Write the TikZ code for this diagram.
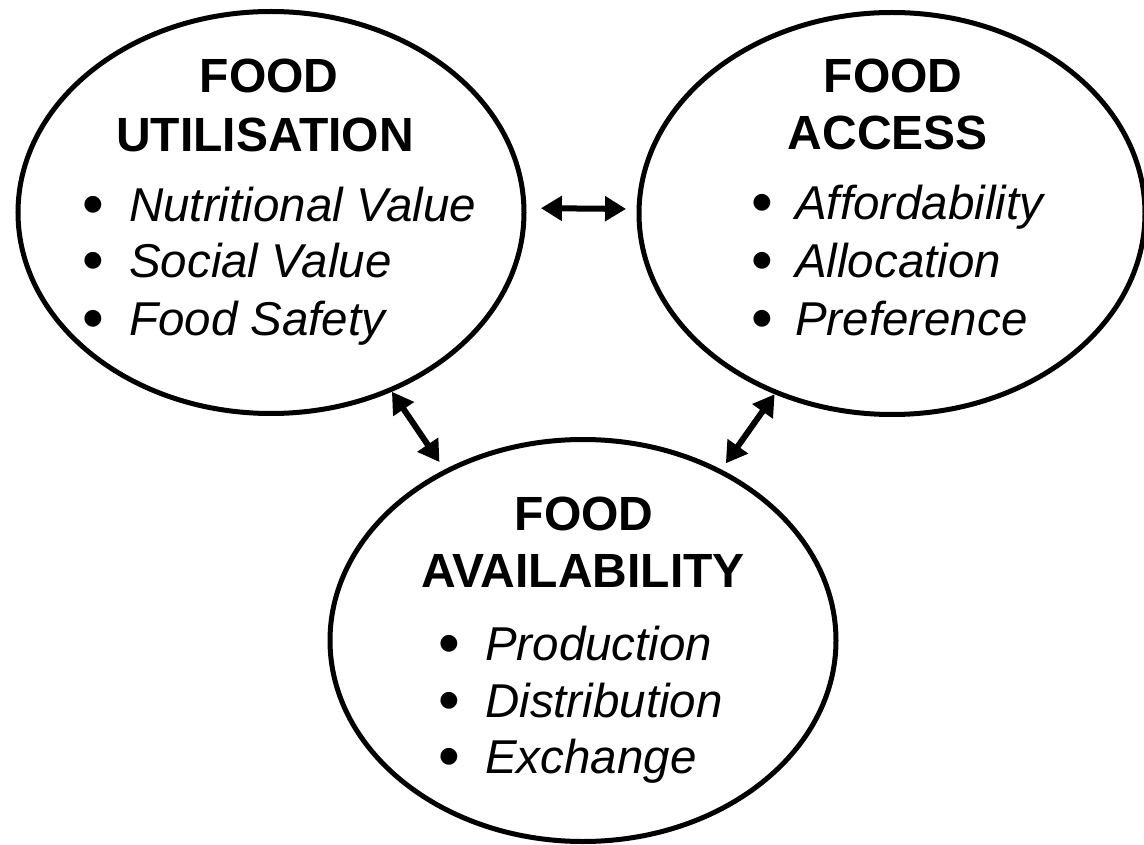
\documentclass[tikz,border=0pt]{standalone}
\usepackage{fontspec}
\setmainfont{Liberation Sans}
\newfontfamily\symfont{DejaVu Sans}
\usetikzlibrary{shapes.geometric,arrows.meta}
\tikzset{
  circ/.style={ellipse, draw=black, line width=5pt, minimum width=506pt, minimum height=402pt, inner sep=0pt},
  ttl/.style={anchor=base, inner sep=0pt, font=\bfseries\fontsize{48}{58}\selectfont},
  itm/.style={anchor=base west, inner sep=0pt, font=\itshape\fontsize{47.5}{57}\selectfont},
  bul/.style={anchor=base, inner sep=0pt, yshift=11pt, font=\symfont\fontsize{22}{26}\selectfont},
  link/.style={line width=6pt, {Triangle[length=21pt,width=24pt]}-{Triangle[length=21pt,width=24pt]}}
}
\begin{document}
\begin{tikzpicture}[x=1pt,y=-1pt]
\useasboundingbox (0,0) rectangle (1144,845);
% ellipses
\node[circ] (U) at (271,212.5) {};
\node[circ] (A) at (892,213.5) {};
\node[circ] (B) at (583,640.5) {};
% Food utilisation
\node[ttl] (U1) at (269,93) {FOOD};
\node[ttl] (U2) at (265,152) {UTILISATION};
\node[bul] (Ub1) at (93,222) {●};
\node[itm] (Ui1) at (129,222) {Nutritional Value};
\node[bul] (Ub2) at (93,278) {●};
\node[itm] (Ui2) at (129,278) {Social Value};
\node[bul] (Ub3) at (93,335) {●};
\node[itm] (Ui3) at (129,335) {Food Safety};
% Food access
\node[ttl] (A1) at (893,93) {FOOD};
\node[ttl] (A2) at (888,150) {ACCESS};
\node[bul] (Ab1) at (762,220) {●};
\node[itm] (Ai1) at (795,220) {Affordability};
\node[bul] (Ab2) at (762,278) {●};
\node[itm] (Ai2) at (795,278) {Allocation};
\node[bul] (Ab3) at (762,335) {●};
\node[itm] (Ai3) at (795,335) {Preference};
% Food availability
\node[ttl] (B1) at (584,530) {FOOD};
\node[ttl] (B2) at (583,587) {AVAILABILITY};
\node[bul] (Bb1) at (449,660) {●};
\node[itm] (Bi1) at (485,660) {Production};
\node[bul] (Bb2) at (449,717) {●};
\node[itm] (Bi2) at (485,717) {Distribution};
\node[bul] (Bb3) at (449,773) {●};
\node[itm] (Bi3) at (485,773) {Exchange};
% connectors
\draw[link, shorten <=14.5pt, shorten >=10.5pt] (U.1) -- (A.179);
\draw[link, shorten >=9pt] (U.-56.7) -- (B.129.4);
\draw[link, shorten >=7.5pt] (A.-123.6) -- (B.51.3);
\end{tikzpicture}
\end{document}
